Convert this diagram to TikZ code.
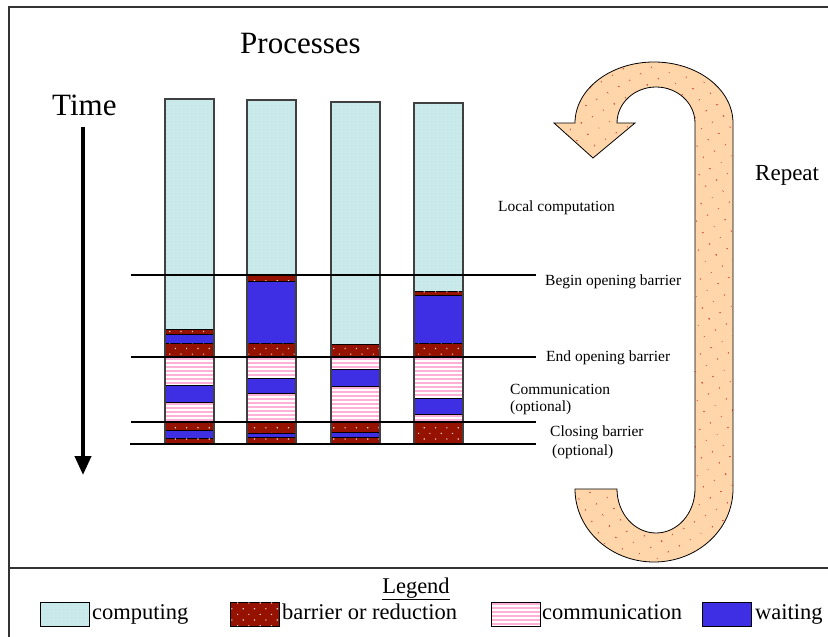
\documentclass[tikz,border=0pt]{standalone}
\usepackage{fontspec}
\setmainfont{Liberation Serif}
\usetikzlibrary{patterns.meta,arrows.meta}
\definecolor{compC}{RGB}{200,234,234}
\definecolor{barC}{RGB}{150,18,0}
\definecolor{commC}{RGB}{255,176,214}
\definecolor{waitC}{RGB}{62,46,228}
\definecolor{peachC}{RGB}{255,214,170}
\tikzset{
  segcomp/.style={fill=compC, draw=black, line width=0.8pt,
    postaction={pattern={Dots[distance=4pt,radius=0.4pt]}, pattern color=black!18}},
  segbar/.style={fill=barC, draw=black, line width=0.8pt,
    postaction={pattern={Dots[distance=8pt,radius=0.8pt,angle=45]}, pattern color=white!85!barC}},
  segwait/.style={fill=waitC, draw=black, line width=0.8pt},
  segedge/.style={draw=black, line width=0.8pt},
  colframe/.style={draw=black!75, line width=1.5pt},
  phase/.style={draw=black, line width=2pt},
  lbl/.style={font=\fontsize{15.5}{18}\selectfont, anchor=base west, inner sep=0pt},
  big/.style={font=\fontsize{31}{36}\selectfont, anchor=base west, inner sep=0pt},
  leg/.style={font=\fontsize{22.5}{26}\selectfont, anchor=base west, inner sep=0pt},
}
\newcommand{\sg}[4]{\path[#1] (#2,#3) rectangle (#2+49,#4);}
% communication block: white with pink horizontal stripes
\newcommand{\cm}[3]{%
  \begin{scope}
    \clip (#1,#2) rectangle (#1+49,#3);
    \fill[white] (#1,#2) rectangle (#1+49,#3);
    \foreach \k in {0,...,11} {\fill[commC] (#1,#2+1+4*\k) rectangle (#1+49,#2+3.2+4*\k);}
  \end{scope}
  \path[segedge] (#1,#2) rectangle (#1+49,#3);}
\begin{document}
\begin{tikzpicture}[x=1pt,y=-1pt]
\useasboundingbox (0,0) rectangle (828,637);
% frame
\draw[black!80, line width=1.5pt] (9,640) -- (9,7) -- (830,7);
\draw[black!80, line width=1.5pt] (9,568) -- (830,568);

% titles
\node[big] (proc) at (240,53) {Processes};
\node[big] (time) at (52,115) {Time};
\node[font=\fontsize{23}{27}\selectfont, anchor=base west, inner sep=0pt] (rep) at (755,180) {Repeat};

% time arrow
\coordinate (tt) at (83,127);
\coordinate (tb) at (83,475);
\draw[line width=4pt, -{Triangle[width=16pt,length=19pt]}] (tt) -- (tb);

% column 1
\sg{segcomp}{165}{99}{329}
\sg{segbar}{165}{329}{334}
\sg{segwait}{165}{334}{343}
\sg{segbar}{165}{343}{357}
\cm{165}{357}{385}
\sg{segwait}{165}{385}{402}
\cm{165}{402}{422}
\sg{segbar}{165}{422}{430}
\sg{segwait}{165}{430}{438}
\sg{segbar}{165}{438}{444}
\draw[colframe] (165,99) rectangle (214,444);
% column 2
\sg{segcomp}{247}{100}{275}
\sg{segbar}{247}{275}{281}
\sg{segwait}{247}{281}{343}
\sg{segbar}{247}{343}{357}
\cm{247}{357}{378}
\sg{segwait}{247}{378}{393}
\cm{247}{393}{422}
\sg{segbar}{247}{422}{433}
\sg{segwait}{247}{433}{437}
\sg{segbar}{247}{437}{444}
\draw[colframe] (247,100) rectangle (296,444);
% column 3
\sg{segcomp}{331}{102}{344}
\sg{segbar}{331}{344}{357}
\cm{331}{357}{369}
\sg{segwait}{331}{369}{386}
\cm{331}{386}{422}
\sg{segbar}{331}{422}{432}
\sg{segwait}{331}{432}{437}
\sg{segbar}{331}{437}{444}
\draw[colframe] (331,102) rectangle (380,444);
% column 4
\sg{segcomp}{414}{103}{291}
\sg{segbar}{414}{291}{295}
\sg{segwait}{414}{295}{343}
\sg{segbar}{414}{343}{357}
\cm{414}{357}{398}
\sg{segwait}{414}{398}{414}
\cm{414}{414}{422}
\sg{segbar}{414}{422}{444}
\draw[colframe] (414,103) rectangle (463,444);

% phase lines
\coordinate (l1a) at (131,275); \coordinate (l1b) at (536,275);
\coordinate (l2a) at (131,357); \coordinate (l2b) at (536,357);
\coordinate (l3a) at (131,422); \coordinate (l3b) at (536,422);
\coordinate (l4a) at (130,444); \coordinate (l4b) at (536,444);
\draw[phase] (l1a) -- (l1b);
\draw[phase] (l2a) -- (l2b);
\draw[phase] (l3a) -- (l3b);
\draw[phase] (l4a) -- (l4b);

% labels
\node[lbl] (lc) at (498,211) {Local computation};
\node[lbl] (bob) at (545,285) {Begin opening barrier};
\node[lbl] (eob) at (546,361) {End opening barrier};
\node[lbl] (com) at (510,394) {Communication};
\node[lbl] (co1) at (510,411) {(optional)};
\node[lbl] (clb) at (550,436) {Closing barrier};
\node[lbl] (co2) at (552,455) {(optional)};

% repeat arrow
\path[fill=peachC, draw=black, line width=0.8pt,
      postaction={pattern={Dots[distance=13pt,radius=0.7pt,angle=30]}, pattern color=red!75!black}]
  (575,489) arc[start angle=180, end angle=0, x radius=79, y radius=73]
  -- (733,123) arc[start angle=0, end angle=-180, x radius=79, y radius=61]
  -- (554,123) -- (593,158) -- (635,123) -- (617,123)
  arc[start angle=180, end angle=360, x radius=39, y radius=36]
  -- (695,489) arc[start angle=0, end angle=180, x radius=39, y radius=44]
  -- cycle;

% legend
\node[font=\fontsize{22.5}{26}\selectfont, anchor=base, inner sep=0pt] (legt) at (416,593) {\underline{Legend}};
\path[segcomp] (40,602) rectangle (89,626);
\node[leg] (lg1) at (92,619) {computing};
\path[segbar] (230,602) rectangle (279,626);
\node[leg] (lg2) at (282,619) {barrier or reduction};
\cm{491}{602}{626}
\node[leg] (lg3) at (542,619) {communication};
\path[segwait] (702,602) rectangle (751,626);
\node[leg] (lg4) at (755,619) {waiting};
\end{tikzpicture}
\end{document}
